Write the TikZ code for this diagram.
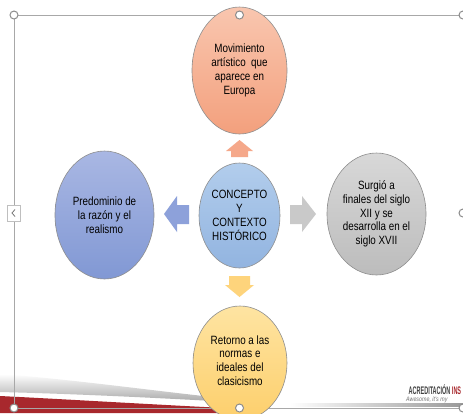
\documentclass[tikz,border=0pt]{standalone}
\usepackage{fontspec}
\usetikzlibrary{shapes.geometric}
\setmainfont{Liberation Sans}[FakeStretch=0.82]
\newfontfamily\logofont{Liberation Sans}[FakeStretch=0.5]
\definecolor{frame}{HTML}{A8A8A8}
\definecolor{handle}{HTML}{8C8C8C}
\definecolor{edge}{HTML}{8E8E8E}
\definecolor{redband}{HTML}{A8282D}
\definecolor{topA}{HTML}{F9C6AF}
\definecolor{topB}{HTML}{F3A07D}
\definecolor{cenA}{HTML}{B2CDEC}
\definecolor{cenB}{HTML}{92B4E0}
\definecolor{lefA}{HTML}{A9B7E3}
\definecolor{lefB}{HTML}{8198D4}
\definecolor{rigA}{HTML}{D8D8D8}
\definecolor{rigB}{HTML}{BCBCBC}
\definecolor{botA}{HTML}{FEE4A2}
\definecolor{botB}{HTML}{FDCF6C}
\definecolor{arrUp}{HTML}{F5A88A}
\definecolor{arrLeft}{HTML}{8DA1DA}
\definecolor{arrRight}{HTML}{C9C9C9}
\definecolor{arrDown}{HTML}{FED47C}
\tikzset{
  bubble/.style={ellipse, draw=edge, line width=0.6pt, inner sep=0pt, align=center,
    text=black, font=\fontsize{12}{13.8}\selectfont},
  handlept/.style={circle, draw=handle, fill=white, line width=1pt, minimum size=8pt, inner sep=0pt},
  framel/.style={draw=frame, line width=0.8pt}
}
\begin{document}
\begin{tikzpicture}[x=1pt,y=-1pt]
\useasboundingbox (0,0) rectangle (463,413);
\clip (0,0) rectangle (463,413);
\fill[white] (0,0) rectangle (463,413);
% slide decoration
\shade[top color=white, bottom color=black!35]
  (0,374) .. controls (80,380) and (160,392) .. (250,401)
  -- (250,403) .. controls (160,398) and (80,394) .. (0,392) -- cycle;
\fill[redband] (0,396) .. controls (80,400) and (160,405) .. (245,409)
  -- (245,413) -- (0,413) -- cycle;
\shade[left color=white, right color=black!40] (290,403.5) rectangle (463,406.5);
\node[anchor=west, inner sep=0pt, font=\logofont\bfseries\fontsize{11}{11}\selectfont]
  (logo) at (408.5,389.5) {\textcolor{black!75}{ACREDITACIÓN }\textcolor{redband}{INS}};
\node[anchor=west, inner sep=0pt, text=black!55, font=\itshape\fontsize{6.5}{7}\selectfont]
  (tag) at (406,399.5) {Awesome, it's my};
% selection frame lines
\coordinate (tl) at (14,15);
\coordinate (tc) at (239.5,15);
\coordinate (tr) at (463,15);
\coordinate (bl) at (14,408);
\coordinate (bc) at (239.5,408);
\coordinate (br) at (463,408);
\coordinate (mr) at (463,213);
\draw[framel] (tl) -- (tr);
\draw[framel] (bl) -- (br);
\draw[framel] (tl) -- (bl);
% bubbles
\node[bubble, top color=topA, bottom color=topB, minimum width=95pt, minimum height=127pt]
  (top) at (239.5,70.5) {Movimiento\\artístico\ \ que\\aparece en\\Europa};
\node[bubble, top color=cenA, bottom color=cenB, minimum width=81pt, minimum height=105pt]
  (center) at (239.5,215.5) {CONCEPTO\\Y\\CONTEXTO\\HISTÓRICO};
\node[bubble, top color=lefA, bottom color=lefB, minimum width=99pt, minimum height=128pt]
  (left) at (104.5,215) {Predominio de\\la razón y el\\realismo};
\node[bubble, top color=rigA, bottom color=rigB, minimum width=99pt, minimum height=122pt]
  (right) at (376.5,214) {Surgió a\\finales del siglo\\XII y se\\desarrolla en el\\siglo XVII};
\node[bubble, top color=botA, bottom color=botB, minimum width=94pt, minimum height=114pt]
  (bottom) at (240,363) {};
\node[text=black, font=\fontsize{12}{13.8}\selectfont, align=center] (bottomtxt) at (240,360.5)
  {Retorno a las\\normas e\\ideales del\\clasicismo};
% block arrows
\fill[arrUp] (239.5,140) -- (253,151) -- (248,151) -- (248,157) -- (231,157) -- (231,151) -- (226,151) -- cycle;
\fill[arrDown] (239.5,297) -- (254,285) -- (250,285) -- (250,276) -- (229,276) -- (229,285) -- (225,285) -- cycle;
\fill[arrLeft] (164,214) -- (177,196) -- (177,205) -- (189,205) -- (189,224) -- (177,224) -- (177,232) -- cycle;
\fill[arrRight] (316,214) -- (302,196) -- (302,205) -- (290,205) -- (290,224) -- (302,224) -- (302,232) -- cycle;
% handles
\foreach \h in {tl,tc,tr,bl,bc,br,mr} \node[handlept] at (\h) {};
\draw[draw=black!25, fill=white, line width=0.6pt] (7,205) rectangle (20,221);
\draw[black!55, line width=0.8pt] (15,209.5) -- (12,213) -- (15,216.5);
\end{tikzpicture}
\end{document}
